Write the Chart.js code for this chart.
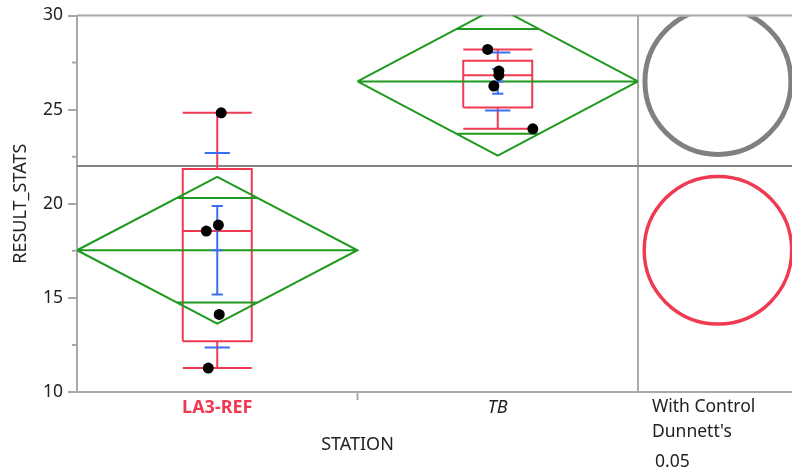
<!DOCTYPE html>
<html>
<head>
<meta charset="utf-8">
<script src="https://cdn.jsdelivr.net/npm/chart.js@4.4.1/dist/chart.umd.min.js"></script>
<style>
  html, body { margin: 0; padding: 0; background: #fff; }
</style>
</head>
<body>
<canvas id="chart" width="792" height="476"></canvas>
<script>
// --- data ---
const stations = ['LA3-REF', 'TB'];
const obsLA3 = [24.83, 18.87, 18.55, 14.12, 11.27];
const jitLA3 = [0.014, 0.004, -0.039, 0.007, -0.032];
const obsTB = [28.2, 27.05, 26.83, 26.25, 23.98];
const jitTB = [-0.036, 0.004, 0.004, -0.014, 0.125];

// summary stats per station
const means = [17.53, 26.5];
const ciHalf = [3.9, 3.94];        // means diamond
const overlapHalf = [2.77, 2.78];  // overlap marks
const stdDev = [5.17, 1.54];
const stdErr = [2.35, 0.66];
const q1 = [12.69, 25.11];
const medians = [18.55, 26.83];
const q3 = [21.84, 27.6];
const mins = [11.27, 23.98];
const maxs = [24.83, 28.2];
const grandMean = 22.0;

// comparison circles, Dunnett's with control
const circleRadius = [4.01, 4.01];
const circleColors = ['#ef3a52', '#808080'];
const circleX = 2.285;
const dunnettText = ['With Control', "Dunnett's", '0.05'];

const yMinor = [12.5, 17.5, 22.5, 27.5];

const RED = '#ef3a52', GREEN = '#1f9a1f', BLUE = '#3a6ff0', FRAME = '#a9a9a9';
const FONT = "'Noto Sans', 'Open Sans', sans-serif";

// helper: list of segments -> one line dataset with gaps
function segs(list) {
  const out = [];
  list.forEach(s => {
    s.forEach(p => out.push({ x: p[0], y: p[1] }));
    out.push({ x: s[0][0], y: null });
  });
  return out;
}

const diamondSegs = [], boxSegs = [], blueSegs = [];
stations.forEach((s, i) => {
  const c = i + 0.5, m = means[i], h = ciHalf[i];
  diamondSegs.push([[i, m], [c, m + h], [i + 1, m], [c, m - h], [i, m]]);
  diamondSegs.push([[i, m], [i + 1, m]]);
  const w = 0.5 * (1 - overlapHalf[i] / h);
  diamondSegs.push([[c - w, m + overlapHalf[i]], [c + w, m + overlapHalf[i]]]);
  diamondSegs.push([[c - w, m - overlapHalf[i]], [c + w, m - overlapHalf[i]]]);

  const bw = 0.123;
  boxSegs.push([[c - bw, q1[i]], [c + bw, q1[i]], [c + bw, q3[i]], [c - bw, q3[i]], [c - bw, q1[i]]]);
  boxSegs.push([[c - bw, medians[i]], [c + bw, medians[i]]]);
  boxSegs.push([[c, q3[i]], [c, maxs[i]]]);
  boxSegs.push([[c, q1[i]], [c, mins[i]]]);
  boxSegs.push([[c - bw, maxs[i]], [c + bw, maxs[i]]]);
  boxSegs.push([[c - bw, mins[i]], [c + bw, mins[i]]]);

  const sw = 0.045, ew = 0.02;
  blueSegs.push([[c - sw, m + stdDev[i]], [c + sw, m + stdDev[i]]]);
  blueSegs.push([[c - sw, m - stdDev[i]], [c + sw, m - stdDev[i]]]);
  blueSegs.push([[c, m - stdErr[i]], [c, m + stdErr[i]]]);
  blueSegs.push([[c - ew, m + stdErr[i]], [c + ew, m + stdErr[i]]]);
  blueSegs.push([[c - ew, m - stdErr[i]], [c + ew, m - stdErr[i]]]);
  blueSegs.push([[c - ew, m], [c + ew, m]]);
});

const dots = [];
obsLA3.forEach((v, k) => dots.push({ x: 0.5 + jitLA3[k], y: v }));
obsTB.forEach((v, k) => dots.push({ x: 1.5 + jitTB[k], y: v }));

const lineDs = (data, color, order) => ({
  type: 'line', data, borderColor: color, borderWidth: 2, pointRadius: 0,
  spanGaps: false, tension: 0, fill: false, order
});

// frame, grand mean line, x tick, circles panel, Dunnett text
const framePlugin = {
  id: 'frame',
  beforeDatasetsDraw(chart) {
    const { ctx, chartArea: a, scales: { x, y } } = chart;
    const W = chart.width;
    ctx.save();
    ctx.lineWidth = 2;
    ctx.strokeStyle = FRAME;
    ctx.beginPath();
    ctx.moveTo(a.left, a.top); ctx.lineTo(W, a.top);
    ctx.moveTo(a.left, a.bottom); ctx.lineTo(W, a.bottom);
    ctx.moveTo(a.left, a.top); ctx.lineTo(a.left, a.bottom);
    ctx.moveTo(a.right, a.top); ctx.lineTo(a.right, a.bottom);
    const xt = x.getPixelForValue(1);
    ctx.moveTo(xt, a.bottom); ctx.lineTo(xt, a.bottom + 8);
    yMinor.forEach(v => {
      const py = y.getPixelForValue(v);
      ctx.moveTo(a.left - 5, py); ctx.lineTo(a.left, py);
    });
    ctx.stroke();
    ctx.strokeStyle = '#858585';
    ctx.beginPath();
    const gy = y.getPixelForValue(grandMean);
    ctx.moveTo(a.left, gy); ctx.lineTo(W, gy);
    ctx.stroke();
    ctx.restore();
  },
  afterDraw(chart) {
    const { ctx, chartArea: a, scales: { x, y } } = chart;
    const W = chart.width;
    ctx.save();
    ctx.beginPath();
    ctx.rect(a.right + 1, a.top + 1, W - a.right, a.bottom - a.top - 2);
    ctx.clip();
    const cx = x.getPixelForValue(circleX);
    stations.forEach((s, i) => {
      const cy = y.getPixelForValue(means[i]);
      const r = y.getPixelForValue(means[i] - circleRadius[i]) - cy;
      ctx.strokeStyle = circleColors[i];
      ctx.lineWidth = i === 0 ? 3.5 : 5;
      ctx.beginPath();
      ctx.arc(cx, cy, r - ctx.lineWidth / 2, 0, Math.PI * 2);
      ctx.stroke();
    });
    ctx.restore();
    ctx.save();
    ctx.fillStyle = '#222';
    ctx.font = '17.5px ' + FONT;
    ctx.textBaseline = 'middle';
    ctx.fillText(dunnettText[0], a.right + 14, a.bottom + 15);
    ctx.fillText(dunnettText[1], a.right + 14, a.bottom + 40);
    ctx.fillText(dunnettText[2], a.right + 17, a.bottom + 70);
    ctx.restore();
  }
};

new Chart(document.getElementById('chart'), {
  type: 'scatter',
  data: {
    datasets: [
      { type: 'scatter', data: dots, backgroundColor: '#000', borderWidth: 0, pointRadius: 5.5, order: 0 },
      lineDs(segs(blueSegs), BLUE, 1),
      lineDs(segs(diamondSegs), GREEN, 2),
      lineDs(segs(boxSegs), RED, 3)
    ]
  },
  options: {
    responsive: false,
    animation: false,
    layout: { padding: { top: 13, right: 154, left: 0, bottom: 0 } },
    plugins: { legend: { display: false }, tooltip: { enabled: false } },
    scales: {
      x: {
        type: 'linear', min: 0, max: 2,
        afterBuildTicks: s => { s.ticks = stations.map((n, i) => ({ value: i + 0.5 })); },
        afterFit: s => { s.height = 84; },
        grid: { display: false, drawTicks: false },
        border: { display: false },
        ticks: {
          padding: 5,
          maxRotation: 0,
          autoSkip: false,
          callback: v => stations[Math.round(v - 0.5)],
          color: c => c.index === 0 ? RED : '#222',
          font: c => c.index === 0
            ? { family: FONT, size: 18, weight: 'bold' }
            : { family: FONT, size: 18, style: 'italic' }
        },
        title: {
          display: true, text: 'STATION', color: '#222',
          font: { family: FONT, size: 18 },
          padding: { top: 0, bottom: 20 }
        }
      },
      y: {
        min: 10, max: 30,
        afterFit: s => { s.width = 77; },
        ticks: { stepSize: 5, padding: 5, color: '#222', font: { family: FONT, size: 17.5 } },
        grid: { drawOnChartArea: false, tickLength: 9, color: FRAME, lineWidth: 2 },
        border: { display: false },
        title: {
          display: true, text: 'RESULT_STATS', color: '#222',
          font: { family: FONT, size: 18 },
          padding: { top: 10, bottom: 0 }
        }
      }
    }
  },
  plugins: [framePlugin]
});
</script>
</body>
</html>
